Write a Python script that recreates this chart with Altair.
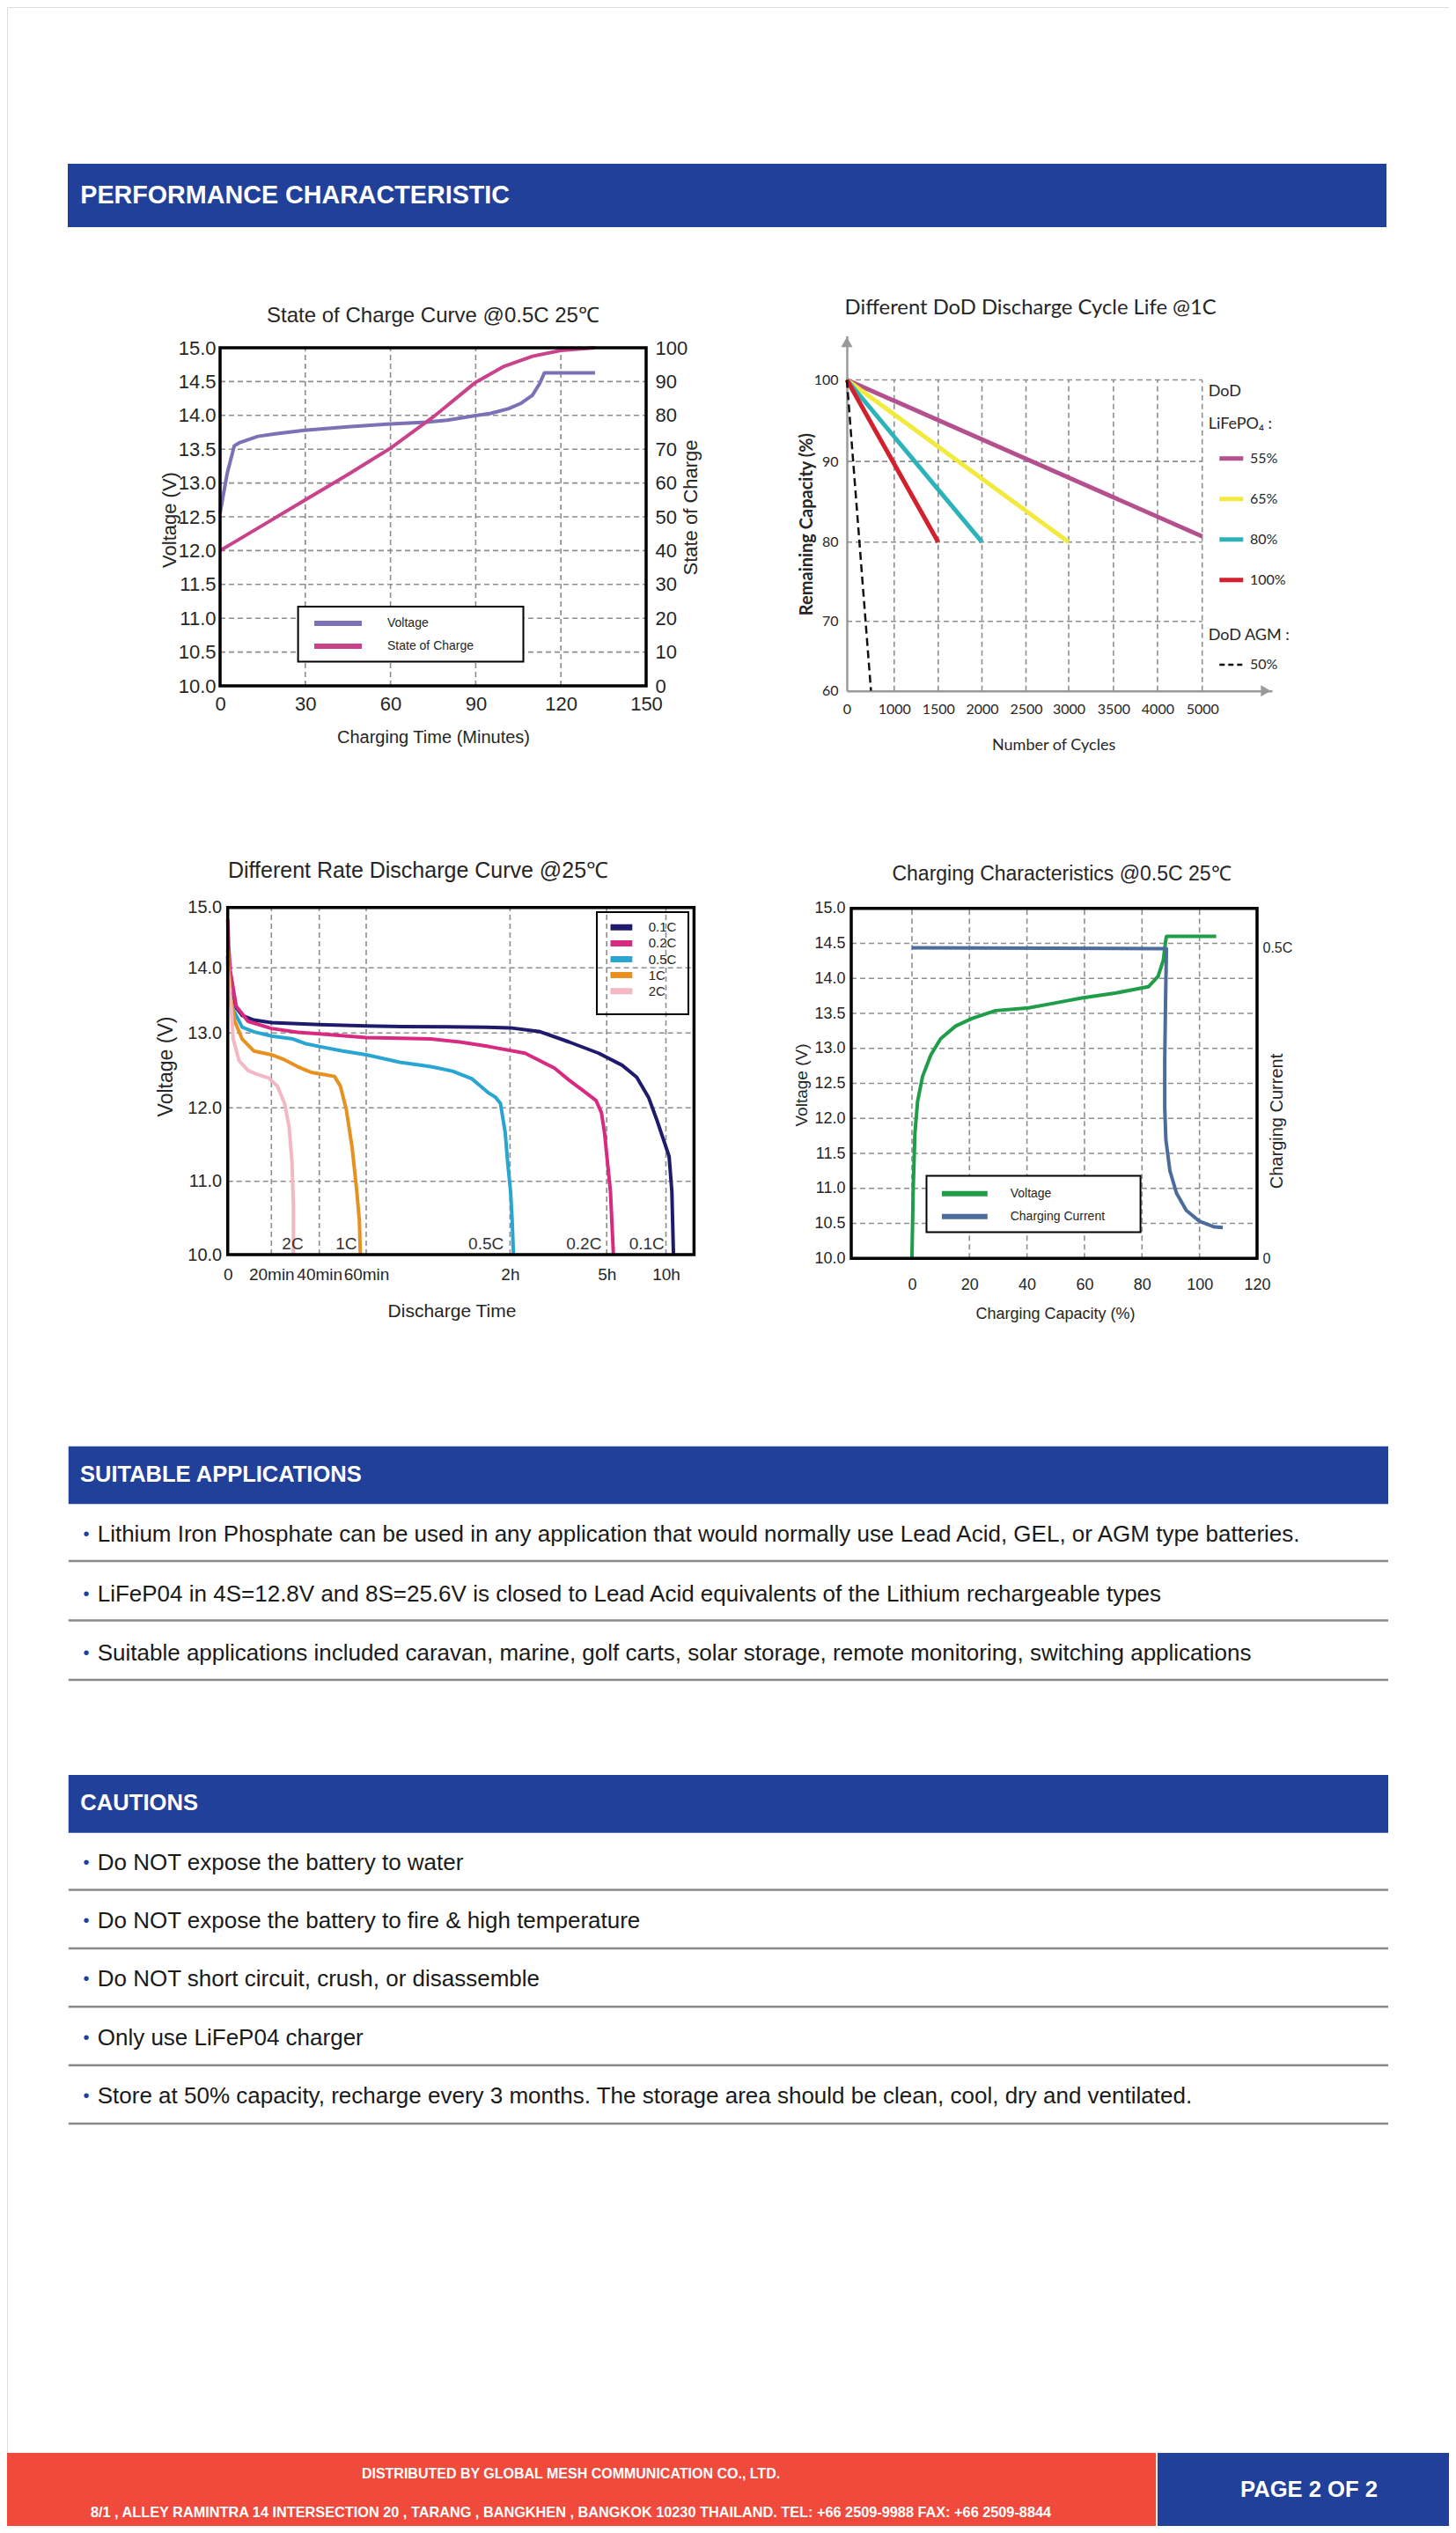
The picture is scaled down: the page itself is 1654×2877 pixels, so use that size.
import altair as alt
import pandas as pd

W, H = 1638, 2861
FONT = "Liberation Sans, Arial, Helvetica, sans-serif"
CAL = "Lato, Liberation Sans, sans-serif"
BLUE = "#21409a"
GRID = "#8e8e8e"
DASH = [6, 4]
INK = "#262626"

# ---------------- page text ----------------
section_titles = ["PERFORMANCE CHARACTERISTIC", "SUITABLE APPLICATIONS", "CAUTIONS"]
applications = [
    "Lithium Iron Phosphate can be used in any application that would normally use Lead Acid, GEL, or AGM type batteries.",
    "LiFeP04 in 4S=12.8V and 8S=25.6V is closed to Lead Acid equivalents of the Lithium rechargeable types",
    "Suitable applications included caravan, marine, golf carts, solar storage, remote monitoring, switching applications",
]
cautions = [
    "Do NOT expose the battery to water",
    "Do NOT expose the battery to fire & high temperature",
    "Do NOT short circuit, crush, or disassemble",
    "Only use LiFeP04 charger",
    "Store at 50% capacity, recharge every 3 months. The storage area should be clean, cool, dry and ventilated.",
]
footer_lines = [
    "DISTRIBUTED BY GLOBAL MESH COMMUNICATION CO., LTD.",
    "8/1 , ALLEY RAMINTRA 14 INTERSECTION 20 , TARANG , BANGKHEN , BANGKOK 10230 THAILAND. TEL: +66 2509-9988 FAX: +66 2509-8844",
]
page_label = "PAGE 2 OF 2"
panel_titles = [
    "State of Charge Curve @0.5C 25℃",
    "Different DoD Discharge Cycle Life @1C",
    "Different Rate Discharge Curve @25℃",
    "Charging Characteristics @0.5C 25℃",
]

# ---------------- chart 1 : state of charge curve ----------------
c1_series = ["Voltage", "State of Charge"]
c1_colors = ["#7c70b6", "#c8438a"]
c1_time_v = [0, 0.6, 2.5, 5, 7, 13.3, 20, 29.7, 45, 58.7, 72.6, 80, 89, 95.3, 101.6, 106, 110, 112.5, 114.2, 132]
c1_volt = [12.55, 12.7, 13.14, 13.55, 13.6, 13.69, 13.73, 13.78, 13.83, 13.87, 13.9, 13.93, 13.99, 14.03, 14.1,
           14.18, 14.3, 14.47, 14.63, 14.63]
c1_time_s = [0, 15, 30, 45, 60, 75, 90, 100, 110, 120, 132]
c1_soc = [40, 47.5, 55, 62.5, 70.3, 79.5, 89.8, 94.5, 97.5, 99.2, 100]
c1_xticks = [0, 30, 60, 90, 120, 150]
c1_vticks = [10.0, 10.5, 11.0, 11.5, 12.0, 12.5, 13.0, 13.5, 14.0, 14.5, 15.0]
c1_sticks = [0, 10, 20, 30, 40, 50, 60, 70, 80, 90, 100]

# ---------------- chart 2 : DoD cycle life ----------------
c2_series = ["55%", "65%", "80%", "100%"]
c2_colors = ["#b5508f", "#f2ea3d", "#2bb3b9", "#d2202c"]
c2_start_cycles = [0, 0, 0, 0]
c2_start_cap = [100, 100, 100, 100]
c2_end_cycles = [5000, 3000, 2000, 1500]
c2_end_cap = [80.7, 80.0, 80.0, 80.0]
c2_agm_series = ["50%"]
c2_agm_cycles = [0, 510]
c2_agm_cap = [100, 60]
c2_xticks = [0, 1000, 1500, 2000, 2500, 3000, 3500, 4000, 5000]
c2_yticks = [60, 70, 80, 90, 100]

# ---------------- chart 3 : rate discharge ----------------
c3_series = ["0.1C", "0.2C", "0.5C", "1C", "2C"]
c3_colors = ["#1f1b6c", "#d82a80", "#28a6d1", "#e8911f", "#f3b8c3"]
c3_t_01 = [0, 0.5, 2.5, 6.6, 11.9, 20, 40, 60, 75, 110, 120, 176, 230, 285, 378, 452, 512, 556, 616, 630, 638]
c3_v_01 = [14.2, 13.72, 13.45, 13.27, 13.2, 13.16, 13.13, 13.11, 13.1, 13.09, 13.08, 13.02, 12.88, 12.73, 12.57,
           12.41, 12.14, 11.82, 11.34, 10.86, 10.0]
c3_t_02 = [0, 0.5, 1.2, 3.9, 9.3, 20, 31, 40, 60, 74, 87, 99, 111, 148, 203, 230, 258, 280, 290, 296, 304, 319,
           326, 334]
c3_v_02 = [14.8, 14.3, 13.95, 13.41, 13.18, 13.07, 13.01, 12.99, 12.94, 12.93, 12.92, 12.88, 12.82, 12.73, 12.53,
           12.37, 12.22, 12.1, 11.94, 11.66, 11.26, 10.86, 10.46, 10.0]
c3_t_05 = [0, 0.5, 2.5, 6.6, 11.9, 20, 29, 34, 40, 50, 60, 74, 87, 96, 104, 111, 114, 116, 118, 119, 121, 124, 126.4]
c3_v_05 = [14.1, 13.6, 13.36, 13.09, 13.02, 12.96, 12.92, 12.86, 12.82, 12.76, 12.71, 12.61, 12.55, 12.49, 12.39,
           12.2, 12.14, 12.06, 11.66, 11.26, 10.86, 10.46, 10.0]
c3_t_1 = [0, 1.2, 3.2, 6.6, 11.9, 20, 25, 31, 37, 41, 46.5, 49, 51.5, 54, 56, 57.1, 57.5]
c3_v_1 = [14.3, 13.59, 13.18, 12.92, 12.76, 12.71, 12.65, 12.55, 12.47, 12.45, 12.42, 12.29, 11.98, 11.46, 10.86,
          10.46, 10.0]
c3_t_2 = [0, 0.5, 1.85, 2.5, 5.2, 9.3, 13.3, 18.7, 22.5, 25.5, 27.4, 28.6, 29.2, 29.2]
c3_v_2 = [13.95, 13.81, 13.27, 12.92, 12.63, 12.5, 12.45, 12.4, 12.29, 12.06, 11.74, 11.26, 10.66, 10.0]
c3_tick_values = [0, 20, 40, 60, 120, 300, 600]
c3_tick_labels = ["0", "20min", "40min", "60min", "2h", "5h", "10h"]
c3_vticks = [10, 11, 12, 13, 14, 15]
c3_end_labels = ["2C", "1C", "0.5C", "0.2C", "0.1C"]
c3_end_label_t = [28.9, 51.5, 110, 257.5, 503]
c3_end_label_v = [10.14, 10.14, 10.14, 10.14, 10.14]

# ---------------- chart 4 : charging characteristics ----------------
c4_series = ["Voltage", "Charging Current"]
c4_colors = ["#1f9d48", "#4c6c9c"]
c4_cap_v = [0, 0.46, 1.04, 1.96, 3.7, 6.6, 10.0, 15.2, 21.0, 29.1, 40.6, 49.9, 59.1, 70.6, 82.2, 85.6, 87.4, 88.2,
            88.5, 105.8]
c4_volt = [10.0, 11.02, 11.79, 12.24, 12.6, 12.91, 13.14, 13.32, 13.43, 13.54, 13.58, 13.65, 13.72, 13.79, 13.88,
           14.03, 14.26, 14.53, 14.6, 14.6]
c4_cap_i = [0, 88.5, 88.2, 87.9, 87.9, 88.3, 89.7, 92.0, 95.4, 100.0, 105.2, 108.1]
c4_current = [0.5, 0.4985, 0.419, 0.318, 0.242, 0.191, 0.141, 0.105, 0.0774, 0.0597, 0.0506, 0.0496]
c4_xticks = [0, 20, 40, 60, 80, 100, 120]
c4_vticks = c1_vticks
c4_iticks = [0, 0.5]
c4_ilabels = ["0", "0.5C"]

# ---------------- helpers ----------------
ONE = pd.DataFrame({"k": [0]})


def label(text, x, y, size, font=FONT, color=INK, weight="normal", align="center"):
    return alt.Chart(pd.DataFrame({"t": [text]})).mark_text(
        font=font, fontSize=size, fontWeight=weight, color=color, align=align, baseline="middle"
    ).encode(x=alt.value(x), y=alt.value(y), text="t:N")


def rect(x0, x1, y0, y1, **mk):
    return alt.Chart(ONE).mark_rect(**mk).encode(
        x=alt.value(x0), x2=alt.value(x1), y=alt.value(y0), y2=alt.value(y1))


def vgrid(vals, xs, ys, y0, y1):
    return alt.Chart(pd.DataFrame({"g": vals})).mark_rule(color=GRID, strokeDash=DASH, strokeWidth=1.6).encode(
        x=alt.X("g:Q", scale=xs, axis=None), y=alt.YDatum(y0, scale=ys, axis=None), y2=alt.Y2Datum(y1))


def hgrid(vals, xs, ys, x0, x1):
    return alt.Chart(pd.DataFrame({"g": vals})).mark_rule(color=GRID, strokeDash=DASH, strokeWidth=1.6).encode(
        y=alt.Y("g:Q", scale=ys, axis=None), x=alt.XDatum(x0, scale=xs, axis=None), x2=alt.X2Datum(x1))


def frame(xs, ys, x0, x1, y0, y1):
    return alt.Chart(ONE).mark_rect(fillOpacity=0, stroke="black", strokeWidth=3.5).encode(
        x=alt.XDatum(x0, scale=xs, axis=None), x2=alt.X2Datum(x1),
        y=alt.YDatum(y0, scale=ys, axis=None), y2=alt.Y2Datum(y1))


def series_df(names, xs_list, ys_list):
    rows = []
    for n, xs, ys in zip(names, xs_list, ys_list):
        for k, (a, b) in enumerate(zip(xs, ys)):
            rows.append({"s": n, "x": a, "y": b, "o": k})
    return pd.DataFrame(rows)


def lines(df, xs, ys, xaxis, yaxis, cscale, legend, width=4, dash=None):
    enc = dict(
        x=alt.X("x:Q", scale=xs, axis=xaxis),
        y=alt.Y("y:Q", scale=ys, axis=yaxis),
        color=alt.Color("s:N", scale=cscale, legend=legend),
        order=alt.Order("o:Q"),
        strokeWidth=alt.value(width),
    )
    if dash:
        enc["strokeDash"] = alt.value(dash)
    return alt.Chart(df).mark_line(strokeJoin="round").encode(**enc)


def axis(orient, offset, values, title, tx, ty, font=FONT, lsize=20, tsize=20, lpad=6, fmt=None, expr=None,
         angle=0, domain=False, tweight="normal"):
    kw = dict(orient=orient, offset=offset, values=values, grid=False, ticks=False, domain=domain,
              labelFont=font, labelFontSize=lsize, labelColor=INK, labelPadding=lpad,
              labelFlush=False, labelOverlap=False,
              title=title, titleFont=font, titleFontSize=tsize, titleFontWeight=tweight, titleColor=INK,
              titleX=tx, titleY=ty, titleAlign="center", titleBaseline="middle", titleAngle=angle)
    if fmt:
        kw["format"] = fmt
    if expr:
        kw["labelExpr"] = expr
    if domain:
        kw.update(domainColor="#9a9a9a", domainWidth=2.5)
    return alt.Axis(**kw)


def expr_from(vals, labs):
    return " : ".join(f"datum.value == {v} ? '{l}'" for v, l in zip(vals, labs)) + " : ''"


layers = []

# ---------------- header ----------------
layers.append(rect(69, 1567, 178, 250, color=BLUE))
layers.append(label(section_titles[0], 83.3, 214, 28.7, color="white", weight="bold", align="left"))

# ---------------- chart 1 ----------------
x1 = alt.Scale(domain=[0, 150], range=[242, 726], nice=False, zero=False)
y1 = alt.Scale(domain=[10, 15], range=[771, 387], nice=False, zero=False)
s1 = alt.Scale(domain=[0, 100], range=[771, 387], nice=False, zero=False)
col1 = alt.Scale(domain=c1_series, range=c1_colors)
leg1 = alt.Legend(title=None, orient="none", legendX=349, legendY=693, padding=0, clipHeight=14,
                  symbolType="M-6.75,0L6.75,0", symbolSize=64, symbolStrokeWidth=6, symbolOffset=20,
                  labelOffset=49, labelFont=FONT, labelFontSize=14, labelColor=INK, rowPadding=12)
layers.append(label(panel_titles[0], 484, 350.6, 24))
layers.append(vgrid([30, 60, 90, 120], x1, y1, 10, 15))
layers.append(hgrid(c1_vticks[1:-1], x1, y1, 0, 150))
layers.append(rect(330.6, 586.5, 681, 743.4, fill="white", stroke="black", strokeWidth=2))
layers.append(lines(series_df([c1_series[0]], [c1_time_v], [c1_volt]), x1, y1,
                    axis("bottom", 771 - H, c1_xticks, "Charging Time (Minutes)", 484, 58, lsize=22, lpad=10),
                    axis("left", -242, c1_vticks, "Voltage (V)", -57.5, 582, lsize=22, tsize=22, lpad=5,
                         fmt=".1f", angle=270),
                    col1, leg1))
layers.append(lines(series_df([c1_series[1]], [c1_time_s], [c1_soc]), x1, s1, None,
                    axis("right", 726 - W, c1_sticks, "State of Charge", 50, 568, lsize=22, tsize=22, lpad=10,
                         angle=270),
                    col1, None))
layers.append(frame(x1, y1, 0, 150, 10, 15))

# ---------------- chart 2 ----------------
x2 = alt.Scale(domain=[0, 1000, 1500, 2000, 2500, 3000, 3500, 4000, 5000, 6560],
               range=[954, 1007.8, 1057.8, 1107.5, 1157.5, 1206, 1256.9, 1306.9, 1357.7, 1437],
               nice=False, zero=False)
y2 = alt.Scale(domain=[60, 70, 80, 90, 100, 105.4], range=[776.7, 697.8, 607.7, 516.1, 423.5, 373.4],
               nice=False, zero=False)
col2 = alt.Scale(domain=c2_series, range=c2_colors)
colA = alt.Scale(domain=c2_agm_series, range=["#111111"])
leg2 = alt.Legend(title=["DoD", "LiFePO₄ :"], orient="none", legendX=1364.7, legendY=427.8, padding=0,
                  titleFont=CAL, titleFontSize=18, titleFontWeight="normal", titleColor=INK, titleLineHeight=37,
                  titlePadding=22, clipHeight=16, symbolType="M-4.5,0L4.5,0", symbolSize=36,
                  symbolStrokeWidth=5, symbolOffset=18.1, labelOffset=13.2, labelFont=CAL, labelFontSize=16,
                  labelColor=INK, rowPadding=30)
legA = alt.Legend(title="DoD AGM :", orient="none", legendX=1364.7, legendY=705, padding=0,
                  titleFont=CAL, titleFontSize=18, titleFontWeight="normal", titleColor=INK, titlePadding=16,
                  clipHeight=16, symbolType="M-4.5,0L4.5,0", symbolSize=36, symbolStrokeWidth=2.5,
                  symbolDash=[6, 4], symbolOffset=18.1, labelOffset=13.2, labelFont=CAL, labelFontSize=16,
                  labelColor=INK)
layers.append(label(panel_titles[1], 951.6, 342, 23.8, font=CAL, align="left"))
layers.append(vgrid(c2_xticks[1:], x2, y2, 60, 100))
layers.append(hgrid([70, 80, 90, 100], x2, y2, 0, 5000))
c2_x = [[a, b] for a, b in zip(c2_start_cycles, c2_end_cycles)]
c2_y = [[a, b] for a, b in zip(c2_start_cap, c2_end_cap)]
layers.append(lines(series_df(c2_series, c2_x, c2_y), x2, y2,
                    axis("bottom", 776.7 - H, c2_xticks, "Number of Cycles", 1188.6, 61.3, font=CAL, lsize=16,
                         tsize=18, lpad=13, fmt="d", domain=True),
                    axis("left", -954, c2_yticks, "Remaining Capacity (%)", -46, 587, font=CAL, lsize=16,
                         tsize=20, lpad=10, fmt="d", angle=270, domain=True, tweight="bold"),
                    col2, leg2, width=5))
layers.append(lines(series_df(c2_agm_series, [c2_agm_cycles], [c2_agm_cap]), x2, y2, None, None, colA, legA,
                    width=2.5, dash=[9, 5]))
layers.append(alt.Chart(ONE).mark_point(shape="triangle-up", filled=True, color="#9a9a9a", size=170, opacity=1)
              .encode(x=alt.value(954), y=alt.value(380.5)))
layers.append(alt.Chart(ONE).mark_point(shape="triangle-right", filled=True, color="#9a9a9a", size=170, opacity=1)
              .encode(x=alt.value(1430), y=alt.value(776.7)))

# ---------------- chart 3 ----------------
x3 = alt.Scale(domain=[0, 20, 40, 60, 120, 300, 600, 742],
               range=[250.7, 300.3, 354.7, 408, 571.4, 681.2, 748.5, 780.4], nice=False, zero=False)
y3 = alt.Scale(domain=[10, 11, 12, 13, 14, 15], range=[1417, 1333.7, 1250.3, 1165.3, 1091.3, 1022.7],
               nice=False, zero=False)
col3 = alt.Scale(domain=c3_series, range=c3_colors)
leg3 = alt.Legend(title=None, orient="none", legendX=685.3, legendY=1037.8, padding=0, clipHeight=15,
                  symbolType="M-3.125,0L3.125,0", symbolSize=64, symbolStrokeWidth=7, symbolOffset=5,
                  labelOffset=23.4, labelFont=FONT, labelFontSize=15, labelColor=INK, rowPadding=2.1)
layers.append(label(panel_titles[2], 251, 981, 25, align="left"))
layers.append(vgrid(c3_tick_values[1:], x3, y3, 10, 15))
layers.append(hgrid(c3_vticks[1:-1], x3, y3, 0, 742))
layers.append(rect(670, 774, 1028, 1144, fillOpacity=0, stroke="black", strokeWidth=2))
layers.append(lines(series_df(c3_series, [c3_t_01, c3_t_02, c3_t_05, c3_t_1, c3_t_2],
                              [c3_v_01, c3_v_02, c3_v_05, c3_v_1, c3_v_2]), x3, y3,
                    axis("bottom", 1417 - H, c3_tick_values, "Discharge Time", 505, 64, lsize=19, tsize=21,
                         lpad=13, expr=expr_from(c3_tick_values, c3_tick_labels)),
                    axis("left", -250.7, c3_vticks, "Voltage (V)", -70.7, 1203, lsize=20, tsize=23, lpad=7,
                         fmt=".1f", angle=270),
                    col3, leg3, width=4))
layers.append(alt.Chart(pd.DataFrame({"t": c3_end_label_t, "v": c3_end_label_v, "l": c3_end_labels}))
              .mark_text(font=FONT, fontSize=19, color="#333333", baseline="middle")
              .encode(x=alt.X("t:Q", scale=x3, axis=None), y=alt.Y("v:Q", scale=y3, axis=None), text="l:N"))
layers.append(frame(x3, y3, 0, 742, 10, 15))

# ---------------- chart 4 ----------------
x4 = alt.Scale(domain=[-21.1, 120], range=[959, 1420], nice=False, zero=False)
y4 = alt.Scale(domain=[10, 15], range=[1421.3, 1023.8], nice=False, zero=False)
i4 = alt.Scale(domain=[0, 0.5633], range=[1421.3, 1023.8], nice=False, zero=False)
col4 = alt.Scale(domain=c4_series, range=c4_colors)
leg4 = alt.Legend(title=None, orient="none", legendX=1061.8, legendY=1340.7, padding=0, clipHeight=14,
                  symbolType="M-6.5,0L6.5,0", symbolSize=64, symbolStrokeWidth=6, symbolOffset=19,
                  labelOffset=44.9, labelFont=FONT, labelFontSize=14, labelColor=INK, rowPadding=12.1)
layers.append(label(panel_titles[3], 1198, 984.5, 23))
layers.append(vgrid(c4_xticks[:-1], x4, y4, 10, 15))
layers.append(hgrid(c4_vticks[1:-1], x4, y4, -21.1, 120))
layers.append(rect(1044.5, 1287.6, 1327.4, 1391.6, fill="white", stroke="black", strokeWidth=2))
layers.append(lines(series_df([c4_series[0]], [c4_cap_v], [c4_volt]), x4, y4,
                    axis("bottom", 1421.3 - H, c4_xticks, "Charging Capacity (%)", 1190.5, 63.2, lsize=18,
                         tsize=18, lpad=21),
                    axis("left", -959, c4_vticks, "Voltage (V)", -56.3, 1224, lsize=18, tsize=19, lpad=7,
                         fmt=".1f", angle=270),
                    col4, leg4, width=4))
layers.append(lines(series_df([c4_series[1]], [c4_cap_i], [c4_current]), x4, i4, None,
                    axis("right", 1420 - W, c4_iticks, "Charging Current", 22.6, 1265, lsize=16, tsize=20,
                         lpad=6, expr=expr_from(c4_iticks, c4_ilabels), angle=270),
                    col4, None, width=4))
layers.append(frame(x4, y4, -21.1, 120, 10, 15))

# ---------------- suitable applications ----------------
layers.append(rect(69.8, 1569, 1634.7, 1700.3, color=BLUE))
layers.append(label(section_titles[1], 83, 1667, 25.5, color="white", weight="bold", align="left"))
app_df = pd.DataFrame({"i": list(range(len(applications))), "txt": applications})
ya = alt.Scale(domain=[0, 2], range=[1735.3, 1870.3], nice=False, zero=False)
layers.append(alt.Chart(app_df).mark_text(align="left", baseline="middle", font=FONT, fontSize=26, color="#1a1a1a")
              .encode(x=alt.value(102.7), y=alt.Y("i:Q", scale=ya, axis=None), text="txt:N"))
layers.append(alt.Chart(app_df).mark_text(text="•", align="center", baseline="middle", font=FONT, fontSize=20,
                                          color=BLUE)
              .encode(x=alt.value(90), y=alt.Y("i:Q", scale=ya, axis=None)))
layers.append(alt.Chart(app_df).transform_calculate(sep="datum.i + 0.44")
              .mark_rule(color="#8a8a8a", strokeWidth=2.5)
              .encode(y=alt.Y("sep:Q", scale=ya, axis=None), x=alt.value(69.8), x2=alt.value(1569)))

# ---------------- cautions ----------------
layers.append(rect(69.8, 1569, 2008, 2073.7, color=BLUE))
layers.append(label(section_titles[2], 83.3, 2040.3, 25.6, color="white", weight="bold", align="left"))
cau_df = pd.DataFrame({"i": list(range(len(cautions))), "txt": cautions})
yc = alt.Scale(domain=[0, 4], range=[2107.5, 2373.1], nice=False, zero=False)
layers.append(alt.Chart(cau_df).mark_text(align="left", baseline="middle", font=FONT, fontSize=26, color="#1a1a1a")
              .encode(x=alt.value(102.7), y=alt.Y("i:Q", scale=yc, axis=None), text="txt:N"))
layers.append(alt.Chart(cau_df).mark_text(text="•", align="center", baseline="middle", font=FONT, fontSize=20,
                                          color=BLUE)
              .encode(x=alt.value(90), y=alt.Y("i:Q", scale=yc, axis=None)))
layers.append(alt.Chart(cau_df).transform_calculate(sep="datum.i + 0.467")
              .mark_rule(color="#8a8a8a", strokeWidth=2.5)
              .encode(y=alt.Y("sep:Q", scale=yc, axis=None), x=alt.value(69.8), x2=alt.value(1569)))

# ---------------- footer ----------------
layers.append(rect(0, 1305, 2778, H, color="#ef4a3b"))
layers.append(rect(1307, W, 2778, H, color=BLUE))
layers.append(label(footer_lines[0], 640.5, 2802, 16, color="white", weight="bold"))
layers.append(label(footer_lines[1], 640.5, 2846, 16.3, color="white", weight="bold"))
layers.append(label(page_label, 1479, 2820, 25.6, color="white", weight="bold"))

chart = (
    alt.layer(*layers)
    .resolve_scale(x="independent", y="independent", color="independent")
    .properties(width=W, height=H, padding=0, autosize=alt.AutoSizeParams(type="none"))
    .configure_view(strokeWidth=0)
    .configure(background="white")
)

chart.save("out.html", embed_options={"renderer": "svg", "actions": False})
